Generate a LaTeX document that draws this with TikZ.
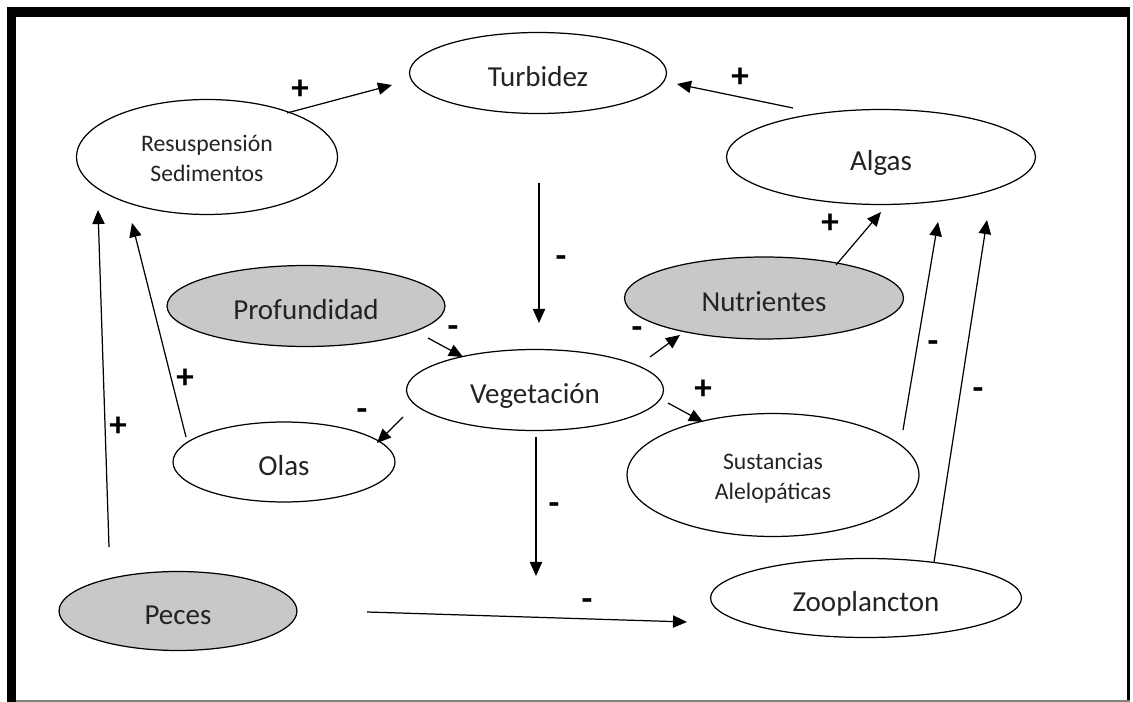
\documentclass[tikz,border=0pt]{standalone}
\usepackage{fontspec}
\setmainfont{Carlito}
\usetikzlibrary{arrows.meta, shapes.geometric, calc}
\definecolor{fijo}{RGB}{200,200,200}
\definecolor{tinta}{RGB}{35,35,35}

\begin{document}
\begin{tikzpicture}[x=0.02cm, y=-0.02cm, line width=0.7pt,
  var/.style={ellipse, draw, inner sep=0pt, align=center, text=tinta,
    text height=15.7pt, text depth=0.8pt, font=\fontsize{16.5}{20}\selectfont},
  varsm/.style={var, text height=28pt, text depth=0.5pt, font=\fontsize{13.5}{17}\selectfont},
  fija/.style={var, fill=fijo},
  arr/.style={-{Triangle[length=8pt, width=7pt]}},
  sgn/.style={inner sep=0pt, font=\bfseries\fontsize{20}{20}\selectfont}]
  \useasboundingbox (0,0) rectangle (1133,702);
  % marco
  \fill (7,7) rectangle (1130,17);
  \fill (7,7) rectangle (16,702);
  \draw[line width=1.2pt] (1128.5,17) -- (1128.5,701);
  \draw[gray, line width=1pt] (16,701) -- (1130,701);

  % variables
  \node[var, minimum width=5.14cm, minimum height=1.62cm] (turb) at (538,73) {Turbidez};
  \node[varsm, minimum width=5.22cm, minimum height=2.3cm] (resus) at (207,157) {Resuspensión\\Sedimentos};
  \node[var, minimum width=6.18cm, minimum height=1.9cm] (algas) at (881,157) {Algas};
  \node[fija, minimum width=5.56cm, minimum height=1.62cm] (prof) at (306,306) {Profundidad};
  \node[var, minimum width=5.14cm, minimum height=1.62cm] (veg) at (535,390) {Vegetación};
  \node[fija, minimum width=5.58cm, minimum height=1.64cm] (nutr) at (764,298) {Nutrientes};
  \node[var, minimum width=4.44cm, minimum height=1.6cm] (olas) at (284,462) {Olas};
  \node[varsm, minimum width=5.84cm, minimum height=2.46cm] (sust) at (773,475) {Sustancias\\Alelopáticas};
  \node[fija, minimum width=4.76cm, minimum height=1.58cm] (peces) at (178,611) {Peces};
  \node[var, minimum width=6.22cm, minimum height=1.58cm] (zoo) at (866,598) {Zooplancton};
  \coordinate (efecto) at (536,576);

  % relaciones
  \draw[arr] ($(resus)+(80,-44)$) -- ($(turb)+(-146,12)$);
  \node[sgn] (s1) at (300,90) {+};
  \draw[arr] ($(algas)+(-88,-49)$) -- ($(turb)+(139,11)$);
  \node[sgn] (s2) at (740,78) {+};
  \draw[arr] ($(turb)+(1,110)$) -- ($(veg)+(4,-67)$);
  \node[sgn] (s3) at (561,262) {-};
  \draw[arr] ($(prof)+(122,32)$) -- ($(veg)+(-72,-33)$);
  \node[sgn] (s4) at (453,332) {-};
  \draw[arr] ($(veg)+(115,-33)$) -- ($(nutr)+(-84,37)$);
  \node[sgn] (s5) at (637,333) {-};
  \draw[arr] ($(veg)+(133,13)$) -- ($(sust)+(-70,-53)$);
  \node[sgn] (s6) at (703,390) {+};
  \draw[arr] ($(veg)+(-132,27)$) -- ($(olas)+(93,-19)$);
  \node[sgn] (s7) at (362,415) {-};
  \draw[arr] ($(olas)+(-98,-25)$) -- ($(resus)+(-75,66)$);
  \node[sgn] (s8) at (185,379) {+};
  \draw[arr] ($(peces)+(-69,-64)$) -- ($(resus)+(-109,53)$);
  \node[sgn] (s9) at (118,427) {+};
  \draw[arr] ($(veg)+(1,47)$) -- (efecto);
  \node[sgn] (s10) at (554,509) {-};
  \draw[arr] ($(peces)+(189,1)$) -- ($(zoo)+(-179,24)$);
  \node[sgn] (s11) at (587,605) {-};
  \draw[arr] ($(nutr)+(72,-33)$) -- ($(algas)+(0,55)$);
  \node[sgn] (s12) at (830,224) {+};
  \draw[arr] ($(sust)+(130,-45)$) -- ($(algas)+(57,65)$);
  \node[sgn] (s13) at (933,347) {-};
  \draw[arr] ($(zoo)+(68,-36)$) -- ($(algas)+(106,63)$);
  \node[sgn] (s14) at (978,394) {-};
\end{tikzpicture}
\end{document}
